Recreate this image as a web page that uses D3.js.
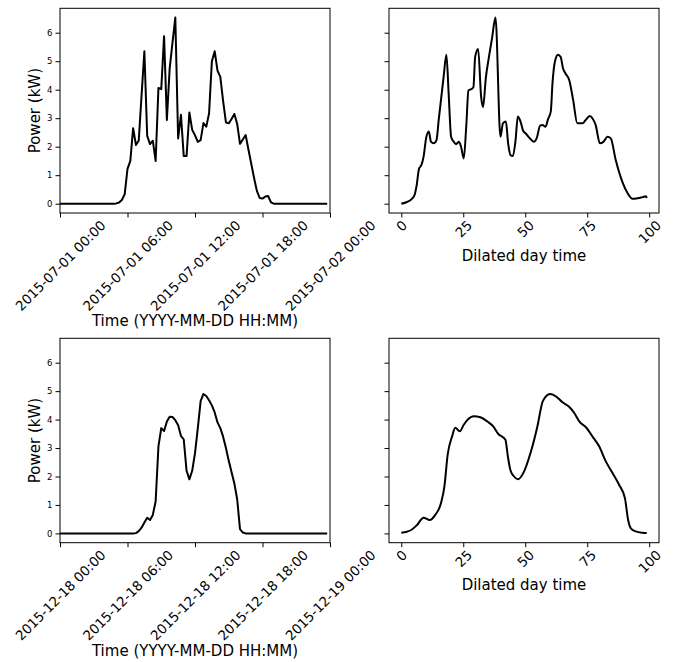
<!DOCTYPE html>
<html><head><meta charset="utf-8">
<script src="https://cdn.jsdelivr.net/npm/d3@7"></script>
<style>
html,body{margin:0;padding:0;background:#fff;}
svg{display:block;font-family:"DejaVu Sans",sans-serif;}
</style></head>
<body><svg id="chart" width="674" height="662"></svg>
<script>
// ---------- data ----------
const summerDay = "2015-07-01";
const winterDay = "2015-12-18";
const sampleMinutes = 15;
// Power (kW) at 15-minute resolution, 00:00 .. 23:45
const summerPower = [
 0,0,0,0,0,0,0,0,0,0,0,0,0,0,0,0,0,0,0,0,
 0.01,0.04,0.13,0.33,1.22,1.5,2.65,2.06,2.22,3.8,
 5.35,2.38,2.09,2.21,1.5,4.06,4.02,5.88,2.94,4.76,
 5.65,6.53,2.29,3.12,1.67,1.67,3.2,2.59,2.4,2.17,
 2.23,2.83,2.7,3.17,5.0,5.35,4.67,4.45,3.6,2.85,
 2.82,2.97,3.15,2.8,2.1,2.25,2.41,1.9,1.4,0.9,
 0.45,0.2,0.18,0.25,0.27,0.05,
 0,0,0,0,0,0,0,0,0,0,0,0,0,0,0,0,0,0,0,0
];
const winterPower = [
 0,0,0,0,0,0,0,0,0,0,0,0,0,0,0,0,0,0,0,0,0,0,0,0,0,0,0,
 0.01,0.08,0.2,0.38,0.55,0.47,0.65,1.12,3.06,3.7,3.6,3.93,4.1,
 4.09,3.98,3.8,3.43,3.3,2.2,1.9,2.2,2.82,3.7,4.65,4.9,4.83,4.68,
 4.5,4.25,3.9,3.7,3.4,3.0,2.55,2.15,1.75,1.2,0.15,0.03,
 0,0,0,0,0,0,0,0,0,0,0,0,0,0,0,0,0,0,0,0,0,0,0,0,0,0,0,0,0,0
];
// Dilated day time (0..99) vs power
const summerDilatedT = [0,2.3,3.9,5.3,6.1,7.2,8.1,9.0,10,11.1,12,13.1,14.2,15.1,17.1,18.2,19.1,20.1,21.2,22.1,
 23.2,24.1,25.2,26.2,27.1,28.2,29.1,29.8,31,32.2,33,34.1,35.3,36.6,38,40,41,42.2,43.1,44.1,
 45,46.1,47,48.1,49.2,50.1,52.2,53.5,54.6,56,57,58.2,59.2,60.3,61,62,63.2,64.3,65.2,66.3,
 67.7,69.3,71,73.1,74.4,76,77.1,78.4,80.1,81.5,83.2,84.5,86.5,89.2,91.3,93.3,95.3,97.3,98.7,99];
const summerDilatedP = [0,0.06,0.14,0.29,0.59,1.24,1.35,1.65,2.29,2.53,2.17,2.12,2.23,2.94,4.47,5.23,3.88,2.35,2.17,2.09,
 2.17,2.0,1.59,2.7,3.97,4.02,4.09,5.15,5.43,3.76,3.39,4.41,5.12,5.8,6.53,2.35,2.82,2.88,2.12,1.7,
 1.67,2.23,3.06,2.88,2.55,2.47,2.26,2.17,2.29,2.74,2.76,2.7,2.97,3.23,4.24,5.0,5.23,5.15,4.76,4.56,
 4.35,3.65,2.82,2.82,2.94,3.08,3.0,2.76,2.12,2.17,2.35,2.29,1.53,0.76,0.37,0.17,0.19,0.23,0.26,0.2];
const winterDilatedT = [0,2.3,4,6.3,9,11.5,13.7,16,17.4,18.7,20.5,21.8,23.6,25.2,26.8,29.2,31.9,34.6,37.1,39.1,
 42,43,44,45.5,47,49.5,52.2,54.9,57.1,60,62.3,65,67.7,69.7,72.1,74.4,77.1,79.8,82.5,85.2,
 87.9,90.2,91.5,92.6,94.6,97.3,99];
const winterDilatedP = [0.02,0.06,0.12,0.29,0.55,0.47,0.65,1.06,1.65,2.76,3.41,3.71,3.59,3.82,4.0,4.12,4.08,3.94,3.76,3.5,
 3.29,2.7,2.23,2.0,1.9,2.17,2.85,3.76,4.65,4.9,4.82,4.61,4.45,4.24,3.9,3.74,3.41,3.06,2.53,2.12,
 1.7,1.24,0.47,0.18,0.07,0.02,0.01];
const yTickValues = [0,1,2,3,4,5,6];
const dilatedTickValues = [0,25,50,75,100];
const timeTickHours = [0,6,12,18,24];
const yLabel = "Power (kW)";
const timeLabel = "Time (YYYY-MM-DD HH:MM)";
const dilatedLabel = "Dilated day time";

// ---------- layout ----------
const svg = d3.select("#chart");
const leftX = [60, 330], rightX = [389, 659];
const rows = [[8.3, 213], [338.3, 542.7]];
const tickLen = 4.5, xTickFont = 13.4, yTickFont = 8.5, labelFont = 15;

const allMax = d3.max([...summerPower, ...winterPower, ...summerDilatedP, ...winterDilatedP]);
const yDomain = [-0.05 * allMax, 1.05 * allMax];

function toDate(day, idx){
  const [Y,M,D] = day.split("-").map(Number);
  return new Date(Date.UTC(Y, M-1, D, 0, idx * sampleMinutes));
}

function frame(g, xr, yr){
  g.append("rect").attr("x", xr[0]).attr("y", yr[0])
   .attr("width", xr[1]-xr[0]).attr("height", yr[1]-yr[0])
   .attr("fill","none").attr("stroke","#000").attr("stroke-width",1);
}

function styleXAxis(ax){
  ax.select(".domain").remove();
  ax.selectAll(".tick line").attr("stroke","#000").attr("stroke-width",1);
  ax.selectAll(".tick text").each(function(){
    const t = d3.select(this);
    t.attr("font-size", xTickFont).attr("fill","#000").attr("font-family","DejaVu Sans")
     .attr("text-anchor","middle").attr("y",0).attr("dy","0.35em");
    const w = this.getComputedTextLength();
    const H = (w + xTickFont*0.95) * Math.SQRT1_2;
    t.attr("transform", `translate(0,${tickLen + 1 + H/2}) rotate(-45)`);
  });
}

function styleYAxis(ax){
  ax.select(".domain").remove();
  ax.selectAll(".tick line").attr("stroke","#000").attr("stroke-width",1);
  ax.selectAll(".tick text").attr("font-size", yTickFont).attr("fill","#000")
    .attr("font-family","DejaVu Sans");
}

function drawPanel(opts){
  const {xr, yr, x, xValues, yValues, ticks, fmt, xlab, xlabY, ylab, curve} = opts;
  const g = svg.append("g");
  const y = d3.scaleLinear().domain(yDomain).range([yr[1], yr[0]]);
  const line = d3.line().x((d,i)=>x(xValues[i])).y(d=>y(d)).curve(curve);
  g.append("path").datum(yValues).attr("d", line)
    .attr("fill","none").attr("stroke","#000").attr("stroke-width",2).attr("stroke-linejoin","round");
  const xa = g.append("g").attr("transform",`translate(0,${yr[1]})`)
    .call(d3.axisBottom(x).tickValues(ticks).tickFormat(fmt).tickSize(tickLen).tickPadding(4).tickSizeOuter(0));
  styleXAxis(xa);
  const ya = g.append("g").attr("transform",`translate(${xr[0]},0)`)
    .call(d3.axisLeft(y).tickValues(yTickValues).tickSize(tickLen).tickPadding(3)
      .tickFormat(ylab ? d3.format("d") : ()=>"").tickSizeOuter(0));
  styleYAxis(ya);
  frame(g, xr, yr);
  g.append("text").attr("x",(xr[0]+xr[1])/2).attr("y",xlabY).attr("text-anchor","middle")
    .attr("font-size",labelFont).attr("fill","#000").text(xlab);
  if (ylab){
    const cy = (yr[0]+yr[1])/2;
    g.append("text").attr("transform",`translate(40,${cy}) rotate(-90)`).attr("text-anchor","middle")
      .attr("font-size",labelFont).attr("fill","#000").text(ylab);
  }
}

const utcFmt = d3.utcFormat("%Y-%m-%d %H:%M");
[[summerDay, summerPower, summerDilatedT, summerDilatedP, 0, 326, 261],
 [winterDay, winterPower, winterDilatedT, winterDilatedP, 1, 656, 590]].forEach(([day, pw, dt, dp, r, tLabY, dLabY])=>{
  const start = toDate(day, 0);
  const end = toDate(day, 24*60/sampleMinutes);
  const xt = d3.scaleUtc().domain([start, end]).range(leftX);
  const times = pw.map((_,i)=>toDate(day,i));
  drawPanel({xr:leftX, yr:rows[r], x:xt, xValues:times, yValues:pw,
    ticks: timeTickHours.map(h=>toDate(day, h*60/sampleMinutes)), fmt:utcFmt,
    xlab:timeLabel, xlabY:tLabY, ylab:yLabel, curve:d3.curveLinear});
  const tMin = d3.min(dt), tMax = d3.max(dt), pad = 0.05*(tMax - tMin);
  const xd = d3.scaleLinear().domain([tMin - pad, tMax + pad]).range(rightX);
  drawPanel({xr:rightX, yr:rows[r], x:xd, xValues:dt, yValues:dp,
    ticks: dilatedTickValues, fmt:d3.format("d"),
    xlab:dilatedLabel, xlabY:dLabY, ylab:null, curve:d3.curveMonotoneX});
});
</script></body></html>
